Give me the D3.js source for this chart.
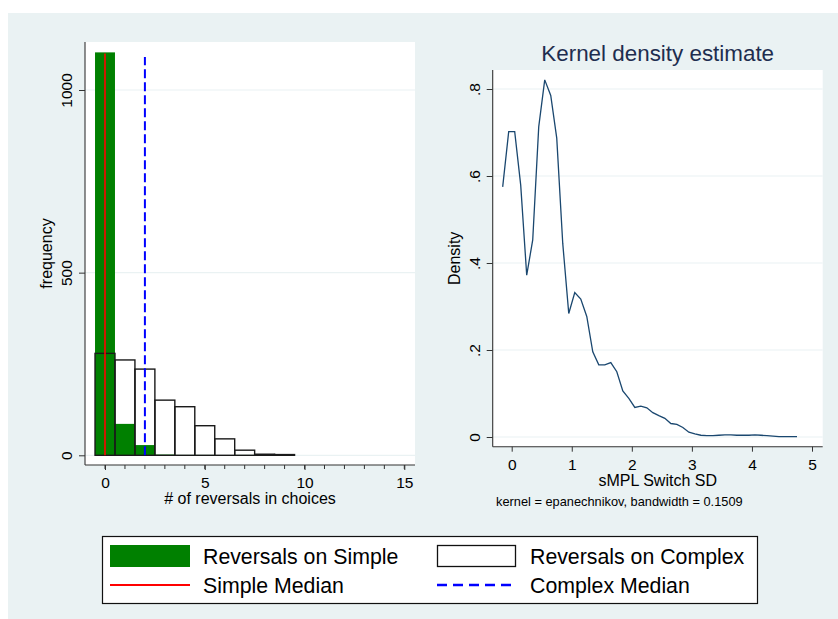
<!DOCTYPE html>
<html>
<head>
<meta charset="utf-8">
<script src="https://cdn.jsdelivr.net/npm/d3@7"></script>
<style>
  body { margin: 0; background: #ffffff; }
  svg { display: block; font-family: "Liberation Sans", Arial, sans-serif; }
</style>
</head>
<body>
<div id="chart"></div>
<script>
// histogram of reversals + kernel density of switch SD, Stata s2color look

const binCenters = [0, 1, 2, 3, 4, 5, 6, 7, 8, 9];
const simpleCounts = [1103, 86, 28, 2, 1, 1, 0, 1, 0, 0];
const complexCounts = [279, 261, 236, 151, 133, 81, 45, 14, 3, 2];
const simpleMedian = 0;
const complexMedian = 2;
const simpleMedianTop = 1100;
const complexMedianTop = 1090;
const histXTicks = [0, 5, 10, 15];
const histXMinorTicks = [0, 1, 2, 3, 4, 5, 6, 7, 8, 9, 10, 11, 12, 13, 14, 15];
const histYTicks = [0, 500, 1000];

const kdeX = [-0.15, -0.05, 0.05, 0.15, 0.25, 0.35, 0.45, 0.55, 0.65, 0.75,
              0.85, 0.95, 1.05, 1.15, 1.25, 1.35, 1.45, 1.55, 1.65, 1.75,
              1.85, 1.95, 2.05, 2.15, 2.25, 2.35, 2.45, 2.55, 2.65, 2.75,
              2.85, 2.95, 3.05, 3.15, 3.25, 3.35, 3.45, 3.55, 3.65, 3.75,
              3.85, 3.95, 4.05, 4.15, 4.25, 4.35, 4.45, 4.55, 4.65, 4.75];
const kdeY = [0.575, 0.702, 0.702, 0.579, 0.372, 0.453, 0.713, 0.821, 0.785, 0.687,
              0.445, 0.284, 0.332, 0.317, 0.277, 0.196, 0.166, 0.166, 0.171, 0.150,
              0.106, 0.089, 0.068, 0.071, 0.067, 0.056, 0.049, 0.043, 0.031, 0.029,
              0.022, 0.011, 0.007, 0.004, 0.003, 0.003, 0.004, 0.005, 0.005, 0.004,
              0.004, 0.004, 0.005, 0.004, 0.003, 0.002, 0.001, 0.001, 0.001, 0.001];
const kdeXTicks = [0, 1, 2, 3, 4, 5];
const kdeYTicks = [0, 0.2, 0.4, 0.6, 0.8];
const kdeYLabels = ["0", ".2", ".4", ".6", ".8"];

const legendItems = [
    { label: "Reversals on Simple", kind: "fill" },
    { label: "Reversals on Complex", kind: "outline" },
    { label: "Simple Median", kind: "solid" },
    { label: "Complex Median", kind: "dash" }
];

const BG = "#eaf2f3";
const GREEN = "#008000";
const AXIS = "#333333";

const W = 838, H = 619;
const svg = d3.select("#chart").append("svg").attr("width", W).attr("height", H);

svg.append("rect").attr("x", 8).attr("y", 13).attr("width", W - 8).attr("height", H - 13).attr("fill", BG);

function frame(box) {
    svg.append("rect").attr("x", box.x0).attr("y", box.y0)
        .attr("width", box.x1 - box.x0).attr("height", box.y1 - box.y0).attr("fill", "#ffffff");
}

function axes(box, x, y, xTicks, yTicks, yFmt, minor) {
    // gridlines
    svg.append("g").selectAll("line").data(yTicks).enter().append("line")
        .attr("x1", box.x0).attr("x2", box.x1)
        .attr("y1", d => y(d)).attr("y2", d => y(d))
        .attr("stroke", BG).attr("stroke-width", 1.2);

    const gx = svg.append("g").attr("transform", `translate(0,${box.y1})`)
        .call(d3.axisBottom(x).tickValues(xTicks).tickSize(5).tickPadding(6).tickFormat(d3.format("d")));
    gx.select(".domain").remove();
    gx.selectAll(".tick line").attr("stroke", AXIS);
    gx.selectAll("text").style("font-size", "15.5px").attr("fill", "#000").attr("dy", "0.8em");
    if (minor) {
        gx.append("g").selectAll("line").data(minor).enter().append("line")
            .attr("x1", d => x(d)).attr("x2", d => x(d)).attr("y1", 0).attr("y2", 4)
            .attr("stroke", AXIS);
    }

    const gy = svg.append("g").attr("transform", `translate(${box.x0},0)`)
        .call(d3.axisLeft(y).tickValues(yTicks).tickSize(6).tickFormat(yFmt));
    gy.select(".domain").remove();
    gy.selectAll(".tick line").attr("stroke", AXIS);
    gy.selectAll("text").style("font-size", "15.5px").attr("fill", "#000")
        .attr("transform", "rotate(-90)").attr("text-anchor", "middle")
        .attr("x", 0).attr("y", -13).attr("dy", 0);

    svg.append("line").attr("x1", box.x0).attr("x2", box.x0).attr("y1", box.y0).attr("y2", box.y1)
        .attr("stroke", AXIS).attr("stroke-width", 1.1);
    svg.append("line").attr("x1", box.x0).attr("x2", box.x1).attr("y1", box.y1).attr("y2", box.y1)
        .attr("stroke", AXIS).attr("stroke-width", 1.1);
}

function axisTitles(box, xTitle, yTitle) {
    svg.append("text").attr("x", (box.x0 + box.x1) / 2).attr("y", box.y1 + 39)
        .attr("text-anchor", "middle").style("font-size", "16px").text(xTitle);
    const cy = (box.y0 + box.y1) / 2;
    svg.append("text").attr("transform", `translate(${box.x0 - 33},${cy}) rotate(-90)`)
        .attr("text-anchor", "middle").style("font-size", "16px").text(yTitle);
}

function drawHistogram() {
    const box = { x0: 85, x1: 415, y0: 42, y1: 465 };
    frame(box);
    const x = d3.scaleLinear().domain([0, 15]).range([105, 404.3]);
    const y = d3.scaleLinear().domain([0, 1000]).range([455.3, 90]);

    axes(box, x, y, histXTicks, histYTicks, d3.format("d"), histXMinorTicks);

    const bins = binCenters.map((c, i) => ({ c, simple: simpleCounts[i], complex: complexCounts[i] }));

    svg.append("g").selectAll("rect").data(bins.filter(d => d.simple > 0)).enter().append("rect")
        .attr("x", d => x(d.c - 0.5)).attr("width", d => x(d.c + 0.5) - x(d.c - 0.5))
        .attr("y", d => y(d.simple)).attr("height", d => y(0) - y(d.simple))
        .attr("fill", GREEN);

    svg.append("g").selectAll("rect").data(bins).enter().append("rect")
        .attr("x", d => x(d.c - 0.5)).attr("width", d => x(d.c + 0.5) - x(d.c - 0.5))
        .attr("y", d => y(d.complex)).attr("height", d => y(0) - y(d.complex))
        .attr("fill", "none").attr("stroke", "#1a1a1a").attr("stroke-width", 1.4);

    svg.append("line").attr("x1", x(simpleMedian)).attr("x2", x(simpleMedian))
        .attr("y1", y(0)).attr("y2", y(simpleMedianTop))
        .attr("stroke", "#ff0000").attr("stroke-width", 1.6);
    svg.append("line").attr("x1", x(complexMedian)).attr("x2", x(complexMedian))
        .attr("y1", y(0)).attr("y2", y(complexMedianTop))
        .attr("stroke", "#0000ff").attr("stroke-width", 2).attr("stroke-dasharray", "9,4");

    axisTitles(box, "# of reversals in choices", "frequency");
}

function drawDensity() {
    const box = { x0: 492.7, x1: 822.7, y0: 70, y1: 446.7 };
    frame(box);
    const x = d3.scaleLinear().domain([0, 5]).range([511.7, 812]);
    const y = d3.scaleLinear().domain([0, 0.8]).range([437, 89]);

    axes(box, x, y, kdeXTicks, kdeYTicks, (d, i) => kdeYLabels[i], null);

    const pts = kdeX.map((v, i) => [v, kdeY[i]]);
    svg.append("path").datum(pts)
        .attr("d", d3.line().x(d => x(d[0])).y(d => y(d[1])))
        .attr("fill", "none").attr("stroke", "#1a476f").attr("stroke-width", 1.3);

    svg.append("text").attr("x", (box.x0 + box.x1) / 2).attr("y", 61)
        .attr("text-anchor", "middle").style("font-size", "22.4px").attr("fill", "#1e2d4f")
        .text("Kernel density estimate");

    axisTitles(box, "sMPL Switch SD", "Density");

    svg.append("text").attr("x", 496).attr("y", 506).style("font-size", "12.8px")
        .text("kernel = epanechnikov, bandwidth = 0.1509");
}

function drawLegend() {
    const g = svg.append("g");
    g.append("rect").attr("x", 102.5).attr("y", 536.5).attr("width", 655).attr("height", 67)
        .attr("fill", "#ffffff").attr("stroke", "#111").attr("stroke-width", 1.2);

    const cols = [110, 437];
    const rows = [556, 585];
    legendItems.forEach((item, i) => {
        const cx = cols[i % 2], cy = rows[Math.floor(i / 2)];
        if (item.kind === "fill") {
            g.append("rect").attr("x", cx).attr("y", cy - 11).attr("width", 80).attr("height", 22).attr("fill", GREEN);
        } else if (item.kind === "outline") {
            g.append("rect").attr("x", cx + 0.5).attr("y", cy - 10.5).attr("width", 78).attr("height", 21)
                .attr("fill", "#fff").attr("stroke", "#111").attr("stroke-width", 1.3);
        } else {
            g.append("line").attr("x1", cx).attr("x2", cx + 80).attr("y1", cy).attr("y2", cy)
                .attr("stroke", item.kind === "solid" ? "#ff0000" : "#0000ff")
                .attr("stroke-width", item.kind === "solid" ? 2 : 2.5)
                .attr("stroke-dasharray", item.kind === "dash" ? "10,6" : null);
        }
        g.append("text").attr("x", cx + 93).attr("y", cy + 7.5).style("font-size", "21.3px").text(item.label);
    });
}

drawHistogram();
drawDensity();
drawLegend();
</script>
</body>
</html>
